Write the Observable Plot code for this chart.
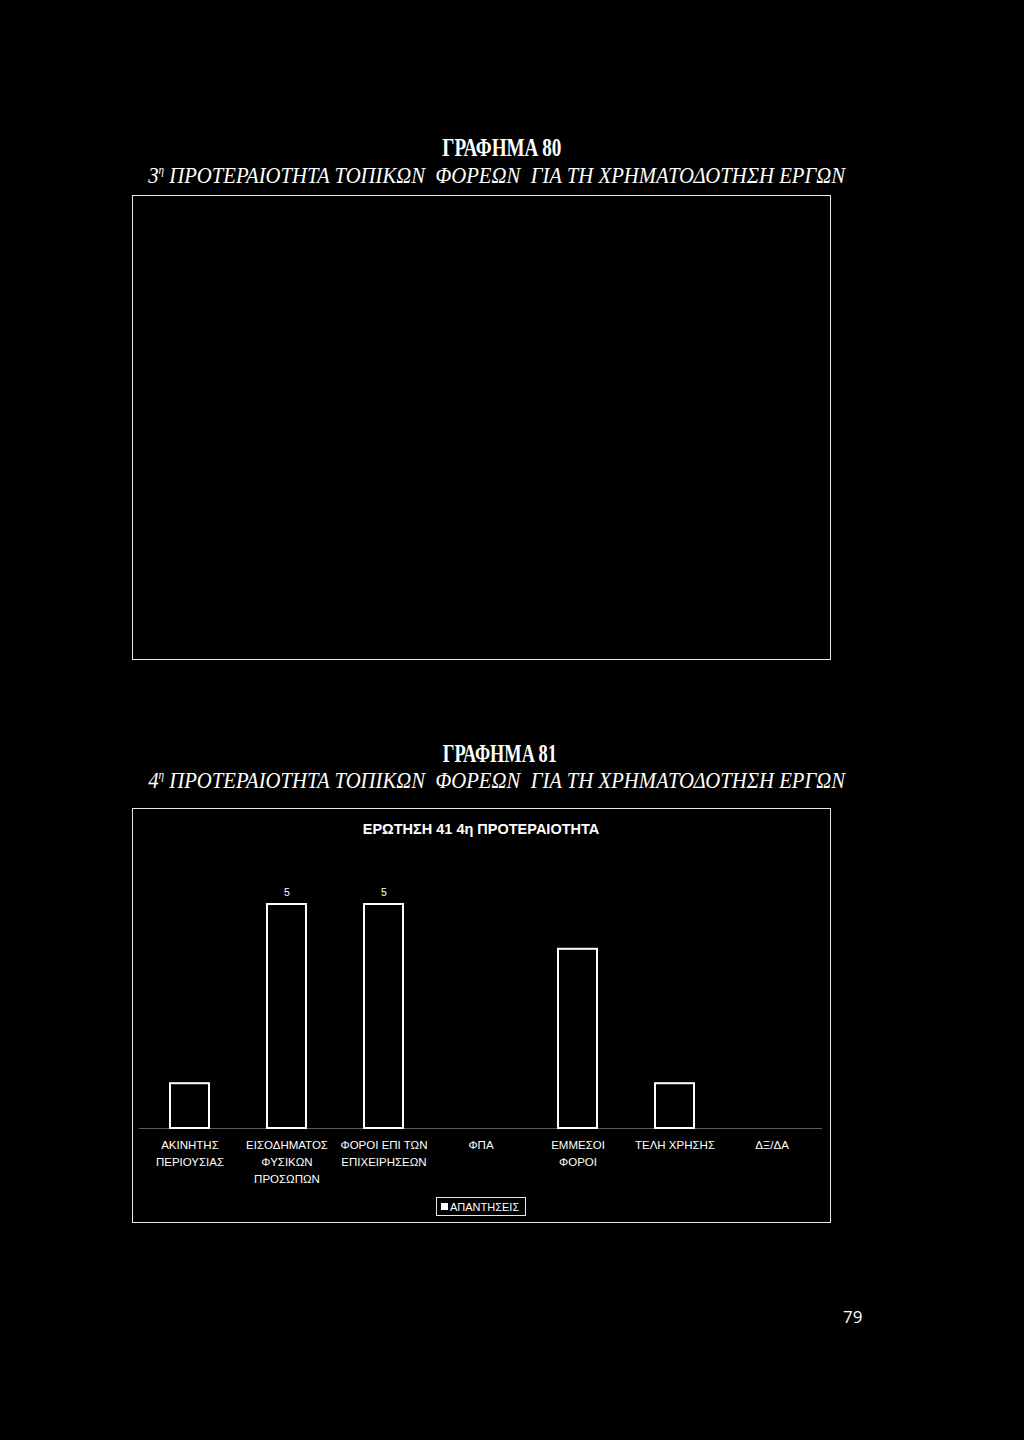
<!DOCTYPE html>
<html>
<head>
<meta charset="utf-8">
<script src="https://cdn.jsdelivr.net/npm/d3@7"></script>
<script src="https://cdn.jsdelivr.net/npm/@observablehq/plot@0.6"></script>
<style>
  html, body { margin: 0; padding: 0; background: #000; }
  body { width: 1024px; height: 1440px; position: relative; overflow: hidden; color: #fff; }
  .t { position: absolute; white-space: nowrap; transform-origin: center center; }
  .h { font-family: "Liberation Serif", "Times New Roman", serif; font-weight: bold; font-size: 26px; }
  .s { font-family: "Liberation Serif", "Times New Roman", serif; font-style: italic; font-size: 24px; }
  .s sup { font-size: 13px; }
  .box { position: absolute; border: 1.5px solid #e8e8e8; box-sizing: border-box; }
  #chart { position: absolute; left: 132px; top: 808px; }
  .ct { position: absolute; font-family: "Liberation Sans", Arial, sans-serif; font-weight: bold; font-size: 14.5px; white-space: nowrap; }
  .legend { position: absolute; left: 436px; top: 1197px; width: 90px; height: 19px; border: 1.5px solid #e8e8e8; box-sizing: border-box;
            font-family: "Liberation Sans", Arial, sans-serif; font-size: 11px; display: flex; align-items: center; padding-left: 4px; gap: 2px; }
  .legend .sw { width: 7px; height: 7px; background: #fff; display: inline-block; }
  .pn { position: absolute; left: 843px; top: 1305px; font-family: "Open Sans", "DejaVu Sans", sans-serif; font-size: 17px; }
</style>
</head>
<body>
<script>
// ---- data ----
const categories = [
  "ΑΚΙΝΗΤΗΣ\nΠΕΡΙΟΥΣΙΑΣ",
  "ΕΙΣΟΔΗΜΑΤΟΣ\nΦΥΣΙΚΩΝ\nΠΡΟΣΩΠΩΝ",
  "ΦΟΡΟΙ ΕΠΙ ΤΩΝ\nΕΠΙΧΕΙΡΗΣΕΩΝ",
  "ΦΠΑ",
  "ΕΜΜΕΣΟΙ\nΦΟΡΟΙ",
  "ΤΕΛΗ ΧΡΗΣΗΣ",
  "ΔΞ/ΔΑ"
];
const values = [1, 5, 5, 0, 4, 1, 0];
const valueLabels = ["", "5", "5", "", "", "", ""];
const seriesName = "ΑΠΑΝΤΗΣΕΙΣ";
const chartTitle = "ΕΡΩΤΗΣΗ 41 4η ΠΡΟΤΕΡΑΙΟΤΗΤΑ";
const pageTexts = {
  h80: "ΓΡΑΦΗΜΑ 80",
  h81: "ΓΡΑΦΗΜΑ 81",
  subRest: " ΠΡΟΤΕΡΑΙΟΤΗΤΑ ΤΟΠΙΚΩΝ &nbsp;ΦΟΡΕΩΝ &nbsp;ΓΙΑ ΤΗ ΧΡΗΜΑΤΟΔΟΤΗΣΗ ΕΡΓΩΝ"
};
const pageNumber = "79";

const data = categories.map((c, i) => ({ cat: c, v: values[i], lab: valueLabels[i] }));

// ---- page text ----
function addText(cls, html, cx, cy, targetW) {
  const el = document.createElement("div");
  el.className = "t " + cls;
  el.innerHTML = html;
  document.body.appendChild(el);
  const r = el.getBoundingClientRect();
  const sx = targetW / r.width;
  el.style.left = (cx - r.width / 2) + "px";
  el.style.top = (cy - r.height / 2) + "px";
  el.style.transform = `scaleX(${sx})`;
  return el;
}
addText("h", pageTexts.h80, 502, 148, 119);
addText("s", "3<sup>η</sup>" + pageTexts.subRest, 497, 175, 697);
addText("h", pageTexts.h81, 500, 754, 114);
addText("s", "4<sup>η</sup>" + pageTexts.subRest, 497, 780, 697);

// boxes
function addBox(l, t, w, h) {
  const b = document.createElement("div");
  b.className = "box";
  Object.assign(b.style, { left: l + "px", top: t + "px", width: w + "px", height: h + "px" });
  document.body.appendChild(b);
}
addBox(132, 195, 699, 465);
addBox(132, 808, 699, 415);

// ---- chart ----
const chart = Plot.plot({
  width: 699,
  height: 385,
  marginLeft: 7,
  marginRight: 9,
  marginTop: 96,
  marginBottom: 65,
  style: { background: "transparent", color: "#fff", fontFamily: "'Liberation Sans', Arial, sans-serif", fontSize: "11.5px" },
  x: { domain: categories, paddingInner: 0.6, paddingOuter: 0.3, align: 0.5 },
  y: { domain: [0, 5], axis: null },
  marks: [
    Plot.ruleY([0], { stroke: "#fff", strokeWidth: 1, strokeOpacity: 0.35 }),
    Plot.barY(data, { x: "cat", y: "v", fill: "#000", stroke: "#fff", strokeWidth: 2 }),
    Plot.text(data, { x: "cat", y: "v", text: "lab", dy: -12, fill: "#fff", fontSize: 10.5 }),
    Plot.axisX({ tickSize: 0, tickPadding: 9, lineHeight: 1.45, fontSize: 11.5, label: null, fill: "#fff" })
  ]
});
const wrap = document.createElement("div");
wrap.id = "chart";
wrap.appendChild(chart);
document.body.appendChild(wrap);

const ct = document.createElement("div");
ct.className = "ct";
ct.textContent = chartTitle;
document.body.appendChild(ct);
{
  const r = ct.getBoundingClientRect();
  ct.style.left = (481 - r.width / 2) + "px";
  ct.style.top = (829 - r.height / 2) + "px";
}

const lg = document.createElement("div");
lg.className = "legend";
lg.innerHTML = `<span class="sw"></span><span>${seriesName}</span>`;
document.body.appendChild(lg);

const pn = document.createElement("div");
pn.className = "pn";
pn.textContent = pageNumber;
document.body.appendChild(pn);
</script>
</body>
</html>
